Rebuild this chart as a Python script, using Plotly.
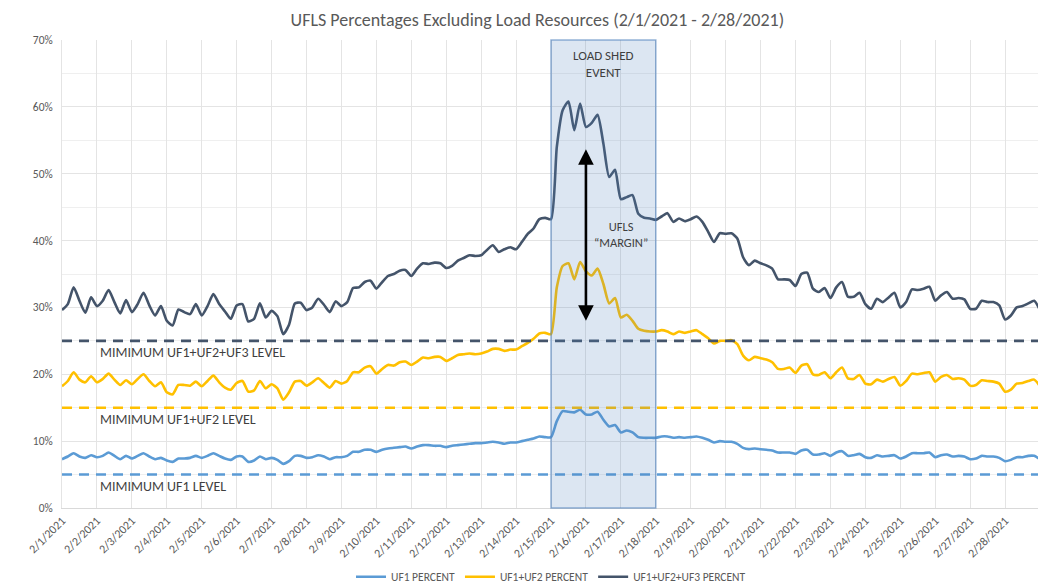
import pandas as pd
import plotly.graph_objects as go

# ---- data (4-hourly samples, 2/1/2021 00:00 -> 3/1/2021 00:00), percent ----
start_time = "2021-02-01"
step = "4h"

uf1_pct = [
    7.3, 7.7, 8.2, 7.7, 7.5, 7.9,
    7.6, 7.8, 8.3, 7.8, 7.3, 7.8,
    7.4, 7.8, 8.2, 7.7, 7.3, 7.5,
    7.1, 6.9, 7.4, 7.4, 7.5, 7.8,
    7.5, 7.8, 8.2, 7.8, 7.4, 7.2,
    7.7, 7.7, 6.9, 7.1, 7.7, 7.3,
    7.5, 7.2, 6.6, 7.0, 7.8, 7.8,
    7.5, 7.6, 7.9, 7.7, 7.3, 7.6,
    7.6, 7.8, 8.4, 8.4, 8.7, 8.7,
    8.4, 8.7, 8.9, 9.0, 9.1, 9.2,
    8.9, 9.2, 9.4, 9.4, 9.3, 9.3,
    9.1, 9.3, 9.4, 9.5, 9.6, 9.7,
    9.7, 9.8, 9.9, 9.8, 9.6, 9.8,
    9.8, 10.0, 10.2, 10.4, 10.7, 10.6,
    10.6, 13.0, 14.5, 14.4, 14.3, 14.7,
    14.0, 14.0, 14.4, 13.2, 12.2, 12.4,
    11.3, 11.6, 11.3, 10.6, 10.5, 10.5,
    10.5, 10.7, 10.7, 10.5, 10.6, 10.5,
    10.6, 10.7, 10.5, 10.2, 9.8, 10.0,
    9.9, 9.9, 9.6, 9.0, 8.8, 8.9,
    8.8, 8.7, 8.6, 8.3, 8.3, 8.3,
    8.1, 8.6, 8.7, 8.0, 8.0, 8.2,
    7.8, 8.3, 8.5, 7.8, 7.9, 8.1,
    7.6, 7.5, 7.9, 7.7, 7.8, 7.9,
    7.4, 7.7, 8.2, 8.2, 8.2, 8.3,
    7.6, 7.9, 8.0, 7.7, 7.8, 7.7,
    7.3, 7.4, 7.8, 7.7, 7.7, 7.5,
    7.0, 7.2, 7.6, 7.6, 7.8, 7.8,
    7.3,
]

uf12_pct = [
    18.2, 19.0, 20.3, 19.2, 18.8, 19.7,
    18.8, 19.3, 20.1, 19.2, 18.4, 19.1,
    18.5, 19.3, 20.0, 19.0, 18.2, 18.8,
    17.3, 17.0, 18.4, 18.4, 18.3, 18.9,
    18.2, 19.0, 19.8, 18.8, 18.0, 17.7,
    18.7, 19.0, 17.4, 17.6, 19.0, 17.9,
    18.5, 17.9, 16.2, 17.3, 18.9, 19.0,
    18.3, 18.8, 19.4, 18.7, 18.0, 19.0,
    18.6, 19.0, 20.3, 20.3, 21.0, 21.2,
    20.1, 20.8, 21.4, 21.3, 21.8, 21.9,
    21.4, 21.9, 22.5, 22.4, 22.6, 22.6,
    22.0, 22.4, 22.9, 23.0, 23.1, 23.0,
    23.1, 23.4, 23.8, 23.8, 23.5, 23.7,
    23.7, 24.2, 24.7, 25.3, 26.1, 26.2,
    26.0, 33.0, 36.2, 36.6, 34.2, 36.8,
    35.4, 34.8, 35.8, 33.5, 30.6, 31.4,
    28.5, 28.9, 28.0, 26.8, 26.5, 26.4,
    26.4, 26.6, 26.4, 26.0, 26.4, 26.2,
    26.4, 26.6, 26.0, 25.4, 24.6, 25.0,
    25.0, 25.1, 24.5, 22.8, 22.1, 22.6,
    22.4, 22.2, 21.8, 20.8, 20.8, 21.0,
    20.2, 21.3, 21.5, 20.0, 19.9, 20.3,
    19.4, 20.3, 21.0, 19.4, 19.3, 19.9,
    18.6, 18.5, 19.2, 18.9, 19.3, 19.6,
    18.3, 19.0, 20.1, 20.0, 20.2, 20.3,
    18.9, 19.6, 19.9, 19.3, 19.4, 19.2,
    18.3, 18.4, 19.1, 19.0, 18.9, 18.6,
    17.4, 17.7, 18.6, 18.7, 19.0, 19.2,
    18.2,
]

uf123_pct = [
    29.6, 30.5, 33.0, 31.0, 29.2, 31.5,
    30.2, 31.0, 32.6, 30.8, 29.1, 31.1,
    29.3, 30.5, 32.2, 30.3, 28.8, 30.2,
    28.0, 27.3, 29.7, 29.3, 29.0, 30.5,
    28.8, 30.2, 32.0, 30.5, 29.4, 28.3,
    30.3, 30.5, 27.9, 28.3, 30.6, 28.5,
    29.5, 28.7, 26.0, 27.4, 30.6, 30.7,
    29.6, 30.0, 31.3, 30.4, 29.3, 30.9,
    30.2, 30.8, 32.9, 33.0, 33.8, 34.0,
    32.8, 33.8, 34.7, 35.0, 35.5, 35.6,
    34.7, 35.8, 36.6, 36.5, 36.7, 36.6,
    35.9, 36.2, 37.0, 37.4, 37.8, 37.7,
    37.8, 38.6, 39.3, 38.3, 38.7, 39.0,
    38.7, 39.8, 41.0, 41.8, 43.2, 43.4,
    43.2, 54.0, 59.5, 60.8, 56.5, 60.5,
    57.0, 57.6, 58.8, 54.5, 49.5, 50.6,
    46.2, 46.5, 46.8, 44.0, 43.4, 43.3,
    43.1, 43.6, 44.1, 42.8, 43.3, 42.9,
    43.2, 43.6, 42.8, 41.3, 39.8, 41.1,
    41.0, 41.1, 40.3, 37.5, 36.3, 37.0,
    36.6, 36.3, 35.8, 34.2, 34.2, 34.1,
    33.2, 35.0, 35.2, 32.8, 32.3, 32.9,
    31.4, 33.0, 33.8, 31.6, 31.6, 32.2,
    30.5, 29.8, 31.3, 30.8, 31.5, 32.2,
    30.0, 30.8, 32.7, 32.6, 32.8, 33.1,
    31.0, 31.8, 32.3, 31.3, 31.4, 31.2,
    29.8, 29.8, 31.0, 30.8, 30.8, 30.3,
    28.2, 28.8, 30.0, 30.2, 30.6, 31.0,
    29.6,
]

series_names = ["UF1 PERCENT", "UF1+UF2 PERCENT", "UF1+UF2+UF3 PERCENT"]
min_levels = [5, 15, 25]
min_labels = ["MIMIMUM UF1 LEVEL", "MIMIMUM UF1+UF2 LEVEL", "MIMIMUM UF1+UF2+UF3 LEVEL"]
event_start, event_end = "2021-02-15", "2021-02-18"
margin_top, margin_bottom = 53.9, 28.0
x_start, x_end = "2021-02-01", "2021-03-01"
tick_days = pd.date_range("2021-02-01", "2021-02-28", freq="D")
tick_text = [f"{d.month}/{d.day}/{d.year}" for d in tick_days]

# ---- styling ----
colors = ["#5b9bd5", "#ffc000", "#44546a"]
font_family = "Carlito, Lato, 'Open Sans', sans-serif"
grey = "#595959"
grid = "#e4e4e4"
label_col = "#3f3f3f"

times = pd.date_range(start_time, periods=len(uf123_pct), freq=step)

fig = go.Figure()
for name, vals, col in zip(series_names, [uf1_pct, uf12_pct, uf123_pct], colors):
    fig.add_trace(go.Scatter(
        x=times, y=vals, name=name, mode="lines",
        line=dict(color=col, width=2.6, shape="spline", smoothing=0.6),
    ))

# minimum level dashed lines and labels
for lvl, lab, col in zip(min_levels, min_labels, colors):
    fig.add_shape(type="line", xref="x", yref="y", x0=x_start, x1=x_end, y0=lvl, y1=lvl,
                  line=dict(color=col, width=2.6, dash="10px,7px"), layer="above")
    fig.add_annotation(x="2021-02-02 00:30", y=lvl, xref="x", yref="y", text=lab,
                       showarrow=False, xanchor="left", yanchor="top", yshift=-1,
                       font=dict(family=font_family, size=14, color=label_col))

# load shed event box
fig.add_shape(type="rect", xref="x", yref="paper", x0=event_start, x1=event_end, y0=0, y1=1,
              fillcolor="rgba(79,129,189,0.2)", line=dict(color="rgba(79,129,189,0.6)", width=1.5),
              layer="above")
fig.add_annotation(x="2021-02-16 12:00", y=66.4, xref="x", yref="y", text="LOAD SHED<br>EVENT",
                   showarrow=False, font=dict(family=font_family, size=13, color=label_col))

# UFLS margin arrow
fig.add_annotation(x="2021-02-16 00:00", y=margin_bottom, ax="2021-02-16 00:00", ay=margin_top,
                   xref="x", yref="y", axref="x", ayref="y", text="", showarrow=True,
                   arrowhead=2, startarrowhead=2, arrowside="end+start", arrowwidth=2.6,
                   arrowsize=1.2, startarrowsize=1.2, arrowcolor="#000000")
fig.add_annotation(x="2021-02-16 00:00", y=40.9, xref="x", yref="y", text="UFLS<br>\u201cMARGIN\u201d",
                   showarrow=False, xanchor="center", xshift=35,
                   font=dict(family=font_family, size=12.5, color=label_col))

# page body has an 8px default margin, so the figure is sized/offset to compensate
fig.update_layout(
    width=1038, height=579,
    margin=dict(l=54, r=6, t=32, b=79, autoexpand=False),
    paper_bgcolor="white", plot_bgcolor="white",
    font=dict(family=font_family, color=grey),
    title=dict(text="UFLS Percentages Excluding Load Resources (2/1/2021 - 2/28/2021)",
               x=0.51, xref="container", xanchor="center",
               y=1 - 12 / 579, yref="container", yanchor="middle",
               font=dict(family=font_family, size=18, color=grey)),
    legend=dict(orientation="h", x=0.5, xanchor="center", y=-0.147, yanchor="middle",
                font=dict(family=font_family, size=11.5, color=grey), itemwidth=30,
                traceorder="normal"),
    showlegend=True,
)
fig.update_xaxes(
    type="date", range=[x_start, x_end], tickmode="array", tickvals=tick_days, ticktext=tick_text,
    tickangle=-45, showgrid=True, gridcolor=grid, gridwidth=1, automargin=False,
    tickfont=dict(family=font_family, size=12, color=grey), ticks="",
    showline=True, linecolor="#d9d9d9", zeroline=False,
)
fig.update_yaxes(
    range=[0, 70], dtick=10, ticksuffix="%", showgrid=True, gridcolor=grid, gridwidth=1,
    minor=dict(dtick=5, showgrid=True, gridcolor="#efefef", gridwidth=1), automargin=False,
    tickfont=dict(family=font_family, size=11.5, color=grey), ticks="", ticklabelstandoff=6,
    showline=True, linecolor="#e4e4e4", zeroline=False,
)

fig.write_html("out.html")
